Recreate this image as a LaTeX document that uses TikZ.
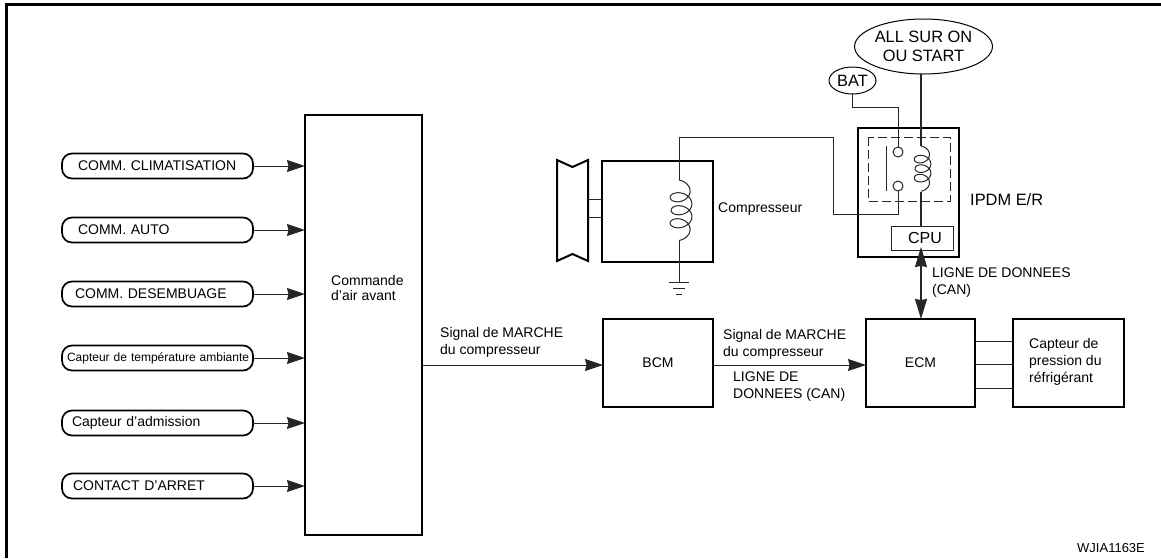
\documentclass[tikz,border=0pt]{standalone}
\usepackage{fontspec}
\setmainfont{Liberation Sans}
\usepackage{tikz}
\usetikzlibrary{shapes,arrows.meta,positioning,calc}
\newcommand{\lblfont}[1]{\fontsize{#1}{#1}\selectfont}
% coil: x, y top, half width, pitch, curl
\newcommand{\coilat}[5]{%
  \draw[wire] plot[domain=0:1260, samples=160, variable=\t, smooth]
    ({#1+#3*sin(\t)+0.25*#3*sin(\t/7)}, {#2+#5+#4/360*\t-#5*cos(\t)});}

\begin{document}
\begin{tikzpicture}[
    x=1pt, y=-1pt,
    wire/.style={line width=1pt, black!85},
    block/.style={draw, line width=2pt, rectangle, outer sep=0pt, align=center, font=\lblfont{14}},
    pill/.style={draw, line width=1.7pt, rectangle, rounded corners=10pt, outer sep=0pt,
        minimum width=191pt, minimum height=25pt, text width=185pt, inner xsep=3pt, align=left, font=\lblfont{14}},
    lbl/.style={anchor=west, align=left, inner sep=0pt, font=\lblfont{14}},
    supply/.style={draw, ellipse, line width=1pt, outer sep=0pt, inner sep=0pt, align=center, font=\lblfont{16.4}},
    arrow/.style={-{Stealth[length=18pt,width=12pt,inset=1.5pt]}, wire}
]
\useasboundingbox (0,0) rectangle (1161,558);
% frame
\draw[line width=3pt] (6,558) -- (6,4.5) -- (1161,4.5);

% left column
\node[block, minimum width=117pt, minimum height=420pt] (cmd) at (363.5,325) {};
\node[lbl] (cmdlbl) at (331,287.5) {Commande\\[1pt]d’air avant};
\node[pill] (clim) at (157.5,166) {\hspace*{13pt}COMM. CLIMATISATION};
\node[pill] (auto) at (157.5,230) {\hspace*{13pt}COMM. AUTO};
\node[pill] (desemb) at (157.5,294) {\hspace*{10pt}COMM. DESEMBUAGE};
\node[pill, font=\lblfont{12}] (temp) at (157.5,358) {\hspace*{2pt}Capteur de température ambiante};
\node[pill] (adm) at (157.5,423) {\hspace*{7pt}Capteur d’admission};
\node[pill] (arret) at (157.5,486) {\hspace*{8pt}CONTACT D’ARRET};
\draw[arrow] (clim) -- (clim -| cmd.west);
\draw[arrow] (auto) -- (auto -| cmd.west);
\draw[arrow] (desemb) -- (desemb -| cmd.west);
\draw[arrow] (temp) -- (temp -| cmd.west);
\draw[arrow] (adm) -- (adm -| cmd.west);
\draw[arrow] (arret) -- (arret -| cmd.west);

% bottom row
\node[block, minimum width=110pt, minimum height=88pt] (bcm) at (658,363) {BCM};
\node[block, minimum width=109pt, minimum height=88pt] (ecm) at (920.5,363) {ECM};
\node[block, minimum width=111pt, minimum height=88pt] (sens) at (1068.5,363) {};
\node[lbl] (senslbl) at (1029,361.5) {Capteur de\\[3pt]pression du\\[3pt]réfrigérant};
\coordinate (sig) at (500,365);
\draw[arrow] (sig -| cmd.east) -- (sig -| bcm.west);
\draw[arrow] (sig -| bcm.east) -- (sig -| ecm.west);
\node[lbl] (sig1) at (440,342.5) {Signal de MARCHE\\[3pt]du compresseur};
\node[lbl] (sig2) at (723,344) {Signal de MARCHE\\[3pt]du compresseur};
\node[lbl] (can1) at (733,387) {LIGNE DE\\[3pt]DONNEES (CAN)};
\coordinate (s1) at (990,341);
\coordinate (s2) at (990,364);
\coordinate (s3) at (990,388);
\draw[wire] (s1 -| ecm.east) -- (s1 -| sens.west);
\draw[wire] (s2 -| ecm.east) -- (s2 -| sens.west);
\draw[wire] (s3 -| ecm.east) -- (s3 -| sens.west);

% compressor
\node[block, minimum width=111pt, minimum height=101pt] (comp) at (657.5,211.5) {};
\node[lbl] (complbl) at (718,209) {Compresseur};
\draw[line width=2pt] (557,160) -- (572.5,167) -- (588,160) -- (588,261) -- (572.5,254) -- (557,261) -- cycle;
\coordinate (pul1) at (588,199);
\coordinate (pul2) at (588,217);
\draw[wire] (pul1) -- (pul1 -| comp.west);
\draw[wire] (pul2) -- (pul2 -| comp.west);
\coordinate (cctop) at (679,180);
\coordinate (ccbot) at (679,241);
\coilat{679}{180}{10.5}{13}{7.5}
\coordinate (gnd) at (679,282);
\draw[wire] (ccbot) -- (gnd);
\draw[wire] ($(gnd)+(-10,0)$) -- ($(gnd)+(10,0)$);
\draw[wire] ($(gnd)+(-6,6)$) -- ($(gnd)+(6,6)$);
\draw[wire] ($(gnd)+(-3,12)$) -- ($(gnd)+(3,12)$);

% relay unit
\node[block, minimum width=101pt, minimum height=129pt] (ipdm) at (908.5,192.5) {};
\node[lbl, font=\lblfont{16.4}] (ipdmlbl) at (970,200) {IPDM E/R};
\draw[wire, dash pattern=on 9pt off 4pt] (868,137) rectangle (950,201);
\node[draw, wire, rectangle, minimum width=62pt, minimum height=24pt, outer sep=0pt, inner sep=0pt,
    text=black, font=\lblfont{16}] (cpu) at (922,238) {\hspace*{6pt}CPU};
\node[supply, minimum width=121pt, minimum height=55pt] (acc) at (923.5,46.5) {ALL SUR ON\\[2pt]OU START};
\node[supply, minimum width=47pt, minimum height=27pt] (bat) at (852.5,80.5) {BAT};
\node[draw, wire, circle, minimum size=10pt, inner sep=0pt, outer sep=0pt] (swa) at (898,152) {};
\node[draw, wire, circle, minimum size=10pt, inner sep=0pt, outer sep=0pt] (swb) at (898,186) {};
\coordinate (bar1) at (886,146);
\coordinate (bar2) at (886,191);
\draw[wire] (bar1) -- (bar2);
\coordinate (ictop) at (921,146);
\coordinate (icbot) at (921,192);
\coilat{921}{146}{8}{9.5}{6}
\draw[wire, line width=1.1pt] (ictop |- acc.south) -- (ictop);
\draw[wire, line width=1.1pt] (icbot) -- (icbot |- cpu.north);
\draw[wire] (bat.south) |- (swa |- 0,107) -- (swa.north);
\coordinate (w1) at (833,214);
\coordinate (w2) at (833,137);
\draw[wire] (swb.south) |- (w1) -- (w2) -| (cctop);
\coordinate (cantop) at (921,247);
\draw[{Stealth[length=20pt,width=12pt,inset=1pt]}-{Stealth[length=20pt,width=12pt,inset=1pt]}, wire, line width=1.2pt]
    (cantop) -- (cantop |- ecm.north);
\node[lbl] (can2) at (932,283) {LIGNE DE DONNEES\\[3pt](CAN)};

\node[lbl, font=\lblfont{13}] (ref) at (1077,548) {WJIA1163E};
\end{tikzpicture}
\end{document}
